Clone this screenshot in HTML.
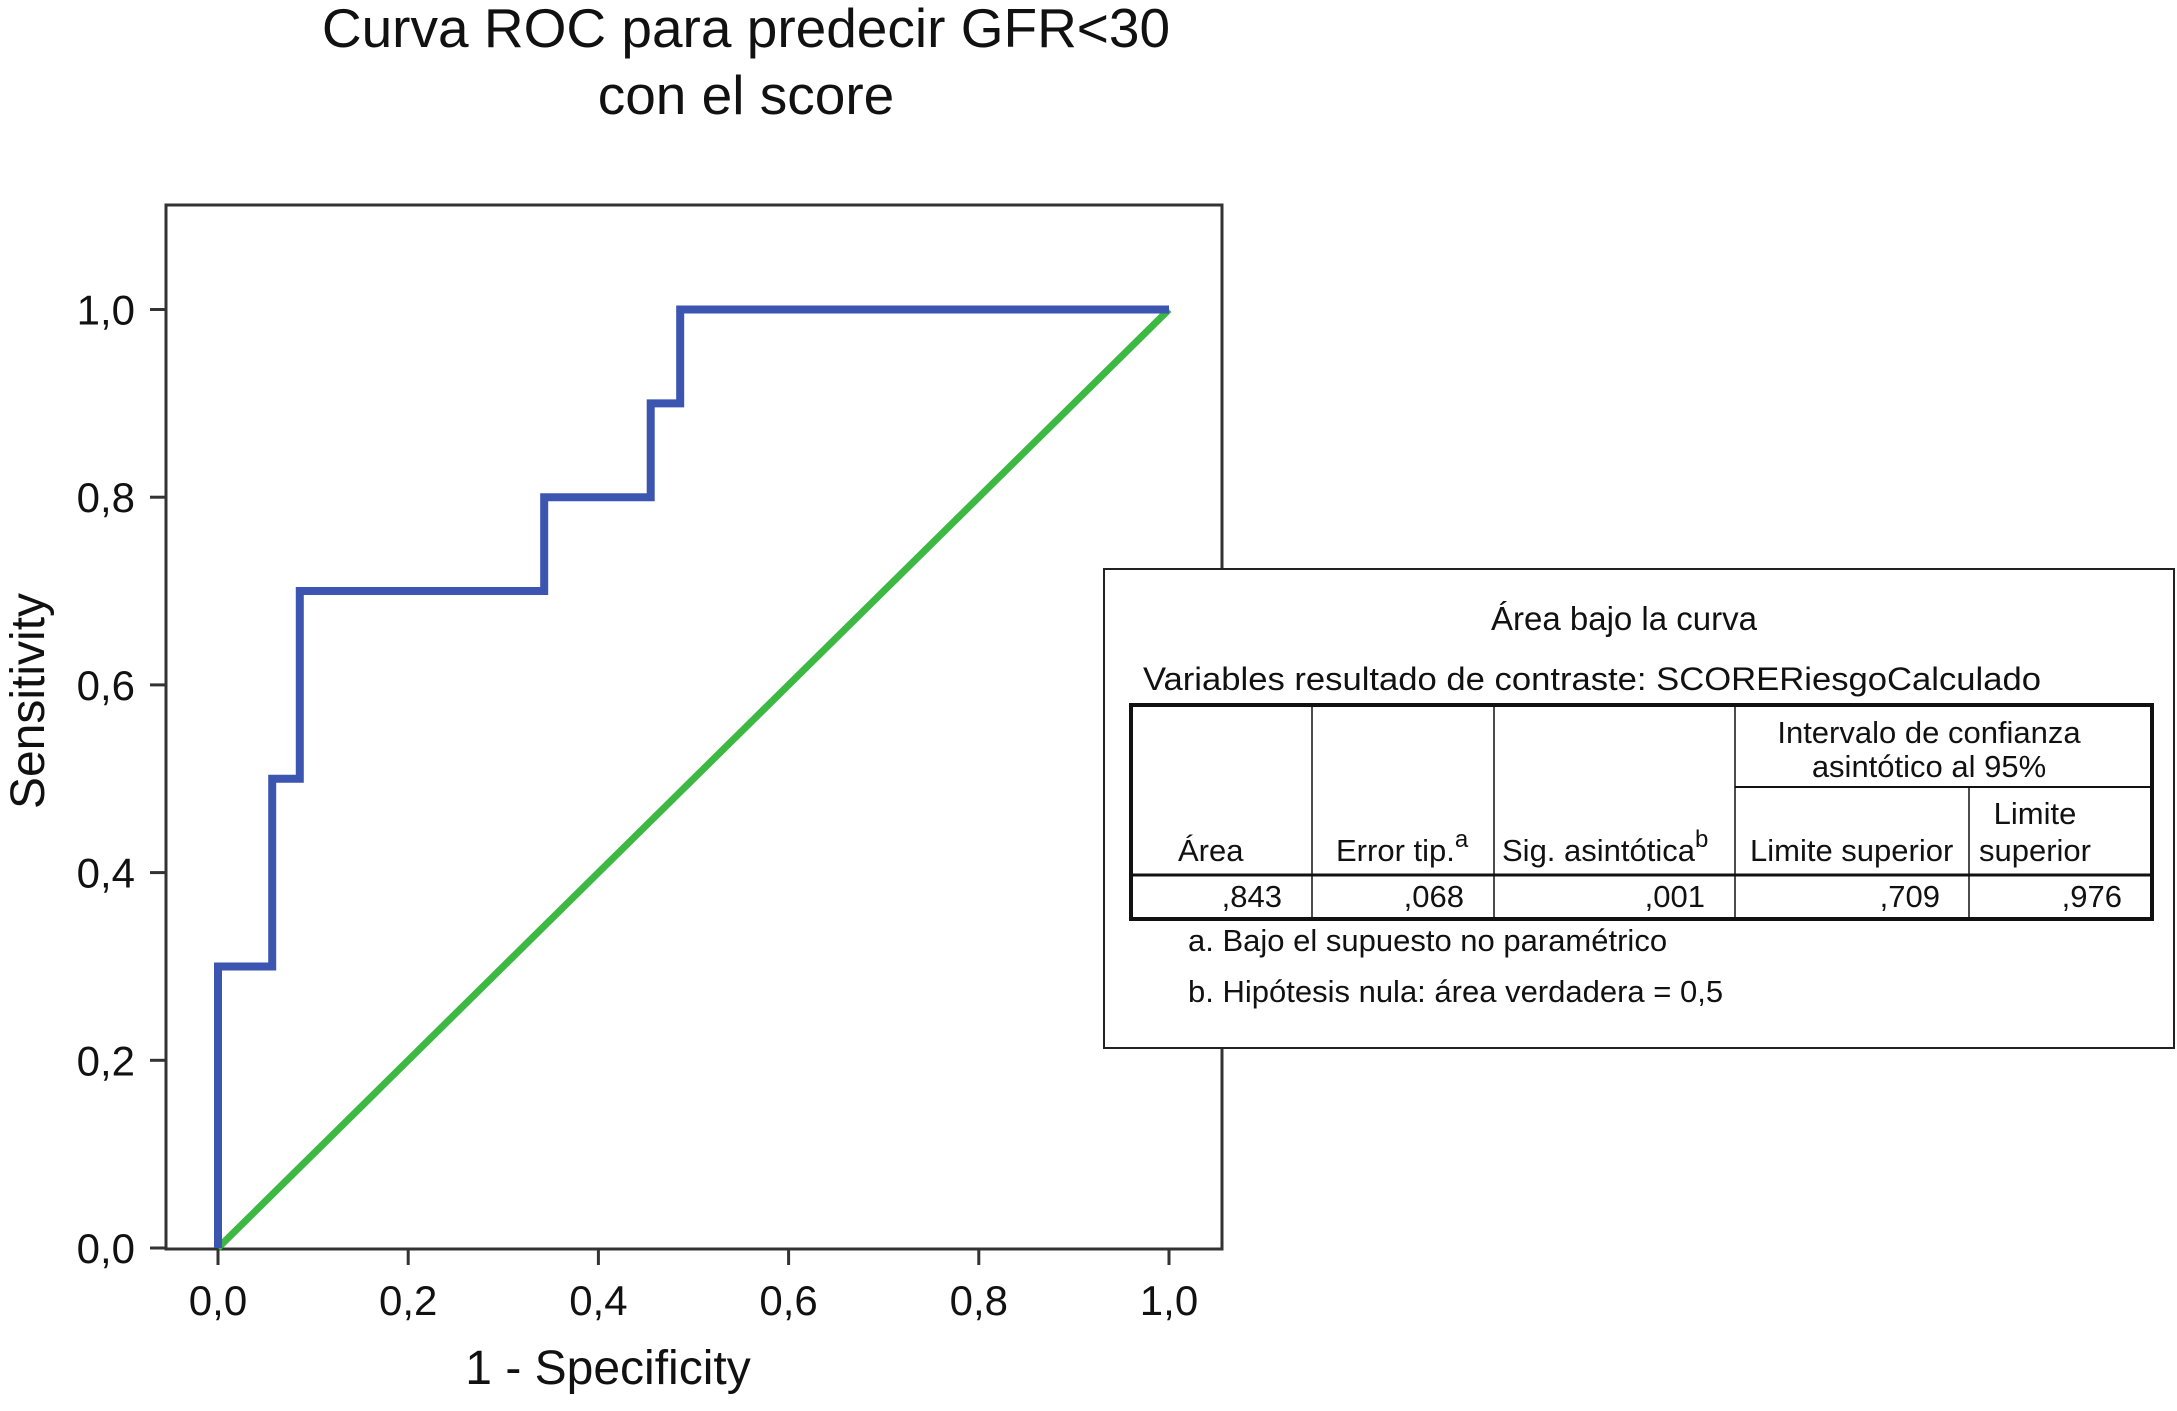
<!DOCTYPE html>
<html><head><meta charset="utf-8"><style>
body{margin:0;background:#fff}
svg text{font-family:"Liberation Sans",sans-serif;fill:#111}
</style></head><body>
<svg width="2177" height="1406" viewBox="0 0 2177 1406">
<g id="chart"></g>
<g>
<rect x="1104" y="569" width="1070" height="479" fill="#fff" stroke="#222" stroke-width="2"/>
<text x="1624" y="630" font-size="33" text-anchor="middle">Área bajo la curva</text>
<text x="1143" y="690" font-size="32" textLength="898" lengthAdjust="spacingAndGlyphs">Variables resultado de contraste: SCORERiesgoCalculado</text>
<g stroke="#111" fill="none">
<rect x="1131" y="705" width="1021" height="214" stroke-width="4"/>
<line x1="1131" y1="875" x2="2152" y2="875" stroke-width="3"/>
<line x1="1735" y1="787" x2="2152" y2="787" stroke-width="2"/>
<line x1="1312" y1="705" x2="1312" y2="919" stroke-width="1.5"/>
<line x1="1494" y1="705" x2="1494" y2="919" stroke-width="1.5"/>
<line x1="1735" y1="705" x2="1735" y2="919" stroke-width="1.5"/>
<line x1="1969" y1="787" x2="1969" y2="919" stroke-width="1.5"/>
</g>
<g font-size="31">
<text x="1929" y="743" text-anchor="middle">Intervalo de confianza</text>
<text x="1929" y="777" text-anchor="middle">asintótico al 95%</text>
<text x="2035" y="824" text-anchor="middle">Limite</text>
<text x="1979" y="861">superior</text>
<text x="1178" y="861">Área</text>
<text x="1336" y="861">Error tip.<tspan dy="-14" font-size="24">a</tspan></text>
<text x="1502" y="861">Sig. asintótica<tspan dy="-14" font-size="24">b</tspan></text>
<text x="1750" y="861">Limite superior</text>
<text x="1282" y="907" text-anchor="end">,843</text>
<text x="1464" y="907" text-anchor="end">,068</text>
<text x="1705" y="907" text-anchor="end">,001</text>
<text x="1940" y="907" text-anchor="end">,709</text>
<text x="2122" y="907" text-anchor="end">,976</text>
<text x="1188" y="951">a. Bajo el supuesto no paramétrico</text>
<text x="1188" y="1002">b. Hipótesis nula: área verdadera = 0,5</text>
</g>
</g>
</svg>
<script>
const rocX=[0,0,0.057,0.057,0.086,0.086,0.343,0.343,0.455,0.455,0.486,0.486,1];
const rocY=[0,0.3,0.3,0.5,0.5,0.7,0.7,0.8,0.8,0.9,0.9,1,1];
const refX=[0,1];
const refY=[0,1];
const xTicks=[0,0.2,0.4,0.6,0.8,1];
const yTicks=[0,0.2,0.4,0.6,0.8,1];
const tickLabels=["0,0","0,2","0,4","0,6","0,8","1,0"];
const NS="http://www.w3.org/2000/svg";
const g=document.getElementById('chart');
const sx=v=>218+v*951, sy=v=>1248-v*938.5;
function mk(t,a,p){const e=document.createElementNS(NS,t);for(const k in a)e.setAttribute(k,a[k]);(p||g).appendChild(e);return e;}
const frame=mk('rect',{x:166,y:205,width:1056,height:1044,fill:'none',stroke:'#333','stroke-width':3});


xTicks.forEach((v,i)=>{
 const l=mk('line',{x1:sx(v),x2:sx(v),y1:1249,y2:1265,stroke:'#333','stroke-width':3});
 
 
 const t=mk('text',{x:sx(v),y:1315,'font-size':42,'text-anchor':'middle'});t.textContent=tickLabels[i];
 
 
});
yTicks.forEach((v,i)=>{
 const l=mk('line',{x1:150,x2:166,y1:sy(v),y2:sy(v),stroke:'#333','stroke-width':3});
 
 
 const t=mk('text',{x:135,y:sy(v)+15,'font-size':42,'text-anchor':'end'});t.textContent=tickLabels[i];
 
 
});
const ref=mk('polyline',{points:refX.map((x,i)=>sx(x)+','+sy(refY[i])).join(' '),fill:'none',stroke:'#3cb843','stroke-width':7});


const roc=mk('polyline',{points:rocX.map((x,i)=>sx(x)+','+sy(rocY[i])).join(' '),fill:'none',stroke:'#3b55b1','stroke-width':8,'stroke-linejoin':'miter'});


const t1=mk('text',{x:746,y:47,'font-size':55,'text-anchor':'middle'});t1.textContent='Curva ROC para predecir GFR<30';


const t2=mk('text',{x:746,y:114,'font-size':55,'text-anchor':'middle'});t2.textContent='con el score';


const xt=mk('text',{x:608,y:1384,'font-size':48,'text-anchor':'middle'});xt.textContent='1 - Specificity';


const yt=mk('text',{x:0,y:0,'font-size':48,'text-anchor':'middle',transform:'translate(44,701) rotate(-90)'});yt.textContent='Sensitivity';


</script>
</body></html>
